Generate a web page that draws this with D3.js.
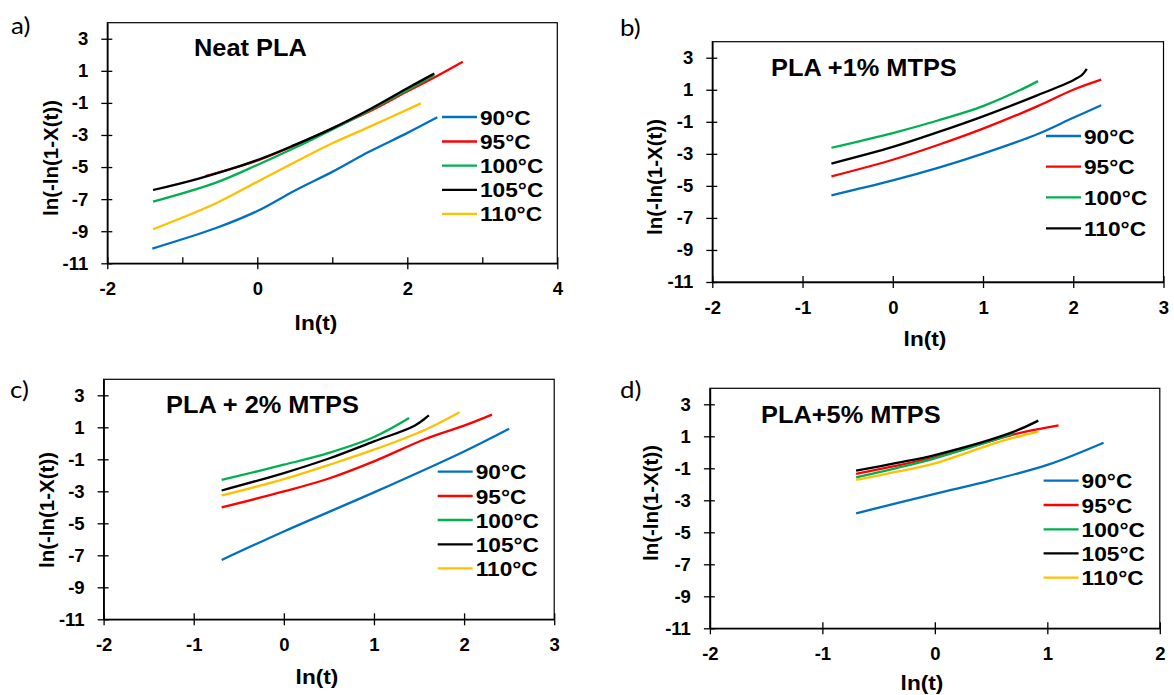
<!DOCTYPE html>
<html>
<head>
<meta charset="utf-8">
<script src="https://cdn.jsdelivr.net/npm/d3@7"></script>
<style>
  body { margin: 0; background: #fff; }
  svg text { font-family: "Liberation Sans", Arial, sans-serif; font-weight: bold; fill: #000; }
  .letter { font-family: Lato, "Open Sans", sans-serif !important; font-weight: normal !important; }
</style>
</head>
<body>
<div id="chart"></div>
<script>
// ---- data: [ln(t), ln(-ln(1-X(t)))] ----
var seriesNames5 = ["90°C", "95°C", "100°C", "105°C", "110°C"];
var seriesNames4 = ["90°C", "95°C", "100°C", "110°C"];
var colors5 = ["#0070C0", "#FF0000", "#00B050", "#000000", "#FFC000"];
var colors4 = ["#0070C0", "#FF0000", "#00B050", "#000000"];
var yTickValues = [-11, -9, -7, -5, -3, -1, 1, 3];

// a) Neat PLA
var a90 = [[-1.40, -10.08], [-0.55, -8.80], [0, -7.74], [0.51, -6.44], [1.0, -5.30], [1.49, -4.05], [1.99, -2.90], [2.40, -1.90]];
var a95 = [[-0.69, -5.56], [0, -4.60], [0.5, -3.65], [1.0, -2.59], [1.5, -1.52], [1.99, -0.30], [2.36, 0.59], [2.74, 1.57]];
var a100 = [[-1.39, -7.16], [-0.55, -5.97], [0, -4.87], [0.5, -3.80], [1.0, -2.65], [1.5, -1.45], [2.0, -0.20], [2.36, 0.74]];
var a105 = [[-1.39, -6.43], [-0.77, -5.70], [0, -4.56], [0.5, -3.62], [1.0, -2.59], [1.5, -1.40], [2.0, -0.09], [2.36, 0.84]];
var a110 = [[-1.39, -8.88], [-0.55, -7.26], [0, -5.91], [0.5, -4.70], [1.0, -3.52], [1.5, -2.48], [2.18, -1.03]];

// b) PLA +1% MTPS
var b90 = [[-0.68, -5.59], [0, -4.66], [0.5, -3.88], [1.0, -2.99], [1.6, -1.78], [2.0, -0.75], [2.31, 0.03]];
var b95 = [[-0.68, -4.41], [0, -3.37], [0.5, -2.45], [1.0, -1.43], [1.6, -0.04], [2.0, 1.00], [2.31, 1.63]];
var b100 = [[-0.68, -2.62], [0, -1.70], [0.5, -0.92], [1.0, -0.02], [1.4, 0.95], [1.61, 1.54]];
var b110 = [[-0.68, -3.61], [0, -2.57], [0.5, -1.65], [1.0, -0.66], [1.6, 0.65], [2.0, 1.60], [2.1, 1.95], [2.15, 2.31]];

// c) PLA + 2% MTPS
var c90 = [[-0.69, -7.29], [0, -5.51], [1.0, -3.07], [2.0, -0.51], [2.5, 0.91]];
var c95 = [[-0.69, -4.01], [0, -3.01], [0.5, -2.20], [1.0, -1.13], [1.57, 0.27], [2.0, 1.10], [2.31, 1.79]];
var c100 = [[-0.69, -2.28], [0, -1.34], [0.5, -0.60], [1.0, 0.39], [1.39, 1.58]];
var c105 = [[-0.69, -2.95], [0, -1.86], [0.5, -0.95], [1.0, 0.12], [1.45, 1.10], [1.61, 1.75]];
var c110 = [[-0.69, -3.26], [0, -2.24], [0.5, -1.35], [1.0, -0.40], [1.57, 0.85], [1.95, 1.94]];

// d) PLA+5% MTPS
var d90 = [[-0.70, -3.81], [0, -2.60], [0.5, -1.75], [1.0, -0.79], [1.5, 0.60]];
var d95 = [[-0.70, -1.35], [-0.35, -0.85], [0, -0.31], [0.68, 1.08], [0.91, 1.44], [1.10, 1.69]];
var d100 = [[-0.70, -1.56], [-0.35, -1.00], [0, -0.375], [0.69, 1.15]];
var d105 = [[-0.70, -1.15], [-0.35, -0.68], [0, -0.17], [0.68, 1.23], [0.92, 1.98]];
var d110 = [[-0.70, -1.73], [-0.35, -1.23], [0, -0.69], [0.58, 0.67], [0.92, 1.29]];

// ---- layout of the four panels ----
var panels = [
  { letter: "a)", letterX: 11, letterY: 34, title: "Neat PLA", titleX: 194, titleY: 56,
    box: [107.3, 22.7, 557.3, 263.3], xDomain: [-2, 4], labelStep: 2,
    yLabelX: 51, yLabelY: 158, xLabelX: 316, xLabelY: 322,
    legX: 442, legRows: [117, 141.5, 165.7, 189.8, 213.8],
    names: seriesNames5, colors: colors5, series: [a90, a95, a100, a105, a110] },
  { letter: "b)", letterX: 620, letterY: 36, title: "PLA +1% MTPS", titleX: 771, titleY: 76,
    box: [712.3, 41.7, 1163.5, 282], xDomain: [-2, 3], labelStep: 1,
    yLabelX: 655, yLabelY: 177, xLabelX: 925, xLabelY: 338,
    legX: 1046, legRows: [136, 166.7, 197.3, 228.3],
    names: seriesNames4, colors: colors4, series: [b90, b95, b100, b110] },
  { letter: "c)", letterX: 10, letterY: 398, title: "PLA + 2% MTPS", titleX: 166, titleY: 413,
    box: [103.6, 379.3, 554.2, 619.3], xDomain: [-2, 3], labelStep: 1,
    yLabelX: 47, yLabelY: 510, xLabelX: 317, xLabelY: 676,
    legX: 437.7, legRows: [471.7, 496, 520, 544.3, 568.3],
    names: seriesNames5, colors: colors5, series: [c90, c95, c100, c105, c110] },
  { letter: "d)", letterX: 620, letterY: 398, title: "PLA+5% MTPS", titleX: 761, titleY: 423,
    box: [709.9, 388.3, 1159.8, 628.3], xDomain: [-2, 2], labelStep: 1,
    yLabelX: 651, yLabelY: 503, xLabelX: 922, xLabelY: 682,
    legX: 1043.6, legRows: [480.7, 505, 529.3, 553.3, 577.7],
    names: seriesNames5, colors: colors5, series: [d90, d95, d100, d105, d110] }
];

// the source figure is slightly stretched sideways, so text is too
var stretch = 1.08;

var svg = d3.select("#chart")
  .append("svg")
  .attr("width", 1174)
  .attr("height", 695);

function addText(tx, ty, str, size, anchor) {
  return svg.append("text")
    .attr("transform", "translate(" + tx + "," + ty + ") scale(" + stretch + ",1)")
    .attr("text-anchor", anchor || "start")
    .style("font-size", size + "px")
    .text(str);
}

panels.forEach(function (p) {
  var left = p.box[0], top = p.box[1], right = p.box[2], bottom = p.box[3];

  var x = d3.scaleLinear().domain(p.xDomain).range([left, right]);
  var y = d3.scaleLinear().domain([-11, 4]).range([bottom, top]);

  // plot area border
  svg.append("rect")
    .attr("x", left).attr("y", top)
    .attr("width", right - left).attr("height", bottom - top)
    .attr("fill", "none").attr("stroke", "#000").attr("stroke-width", 1.2);

  // X axis: ticks every 1, labels every labelStep
  var xTicks = d3.range(p.xDomain[0], p.xDomain[1] + 0.001, 1);
  var isLabeled = function (d) { return (d - p.xDomain[0]) % p.labelStep === 0; };
  var gx = svg.append("g")
    .attr("transform", "translate(0," + bottom + ")")
    .call(d3.axisBottom(x).tickValues(xTicks).tickSize(6).tickSizeOuter(0).tickPadding(13)
      .tickFormat(function (d) { return isLabeled(d) ? String(d) : ""; }));
  gx.select(".domain").attr("stroke-width", 1.6);
  gx.selectAll(".tick line")
    .attr("y1", -6)
    .attr("y2", function (d) { return isLabeled(d) ? 6 : 0; })
    .attr("stroke-width", 1.3);
  gx.selectAll(".tick text").style("font-size", "18.5px");

  // Y axis
  var gy = svg.append("g")
    .attr("transform", "translate(" + left + ",0)")
    .call(d3.axisLeft(y).tickValues(yTickValues).tickSize(6).tickSizeOuter(0).tickPadding(13)
      .tickFormat(function (d) { return String(d); }));
  gy.select(".domain").attr("stroke-width", 1.6);
  gy.selectAll(".tick line").attr("x1", 5).attr("stroke-width", 1.3);
  gy.selectAll(".tick text").style("font-size", "18.5px");

  // series lines
  var line = d3.line()
    .x(function (d) { return x(d[0]); })
    .y(function (d) { return y(d[1]); })
    .curve(d3.curveCatmullRom.alpha(0.5));

  p.series.forEach(function (s, i) {
    svg.append("path")
      .datum(s)
      .attr("fill", "none")
      .attr("stroke", p.colors[i])
      .attr("stroke-width", 2.3)
      .attr("d", line);
  });

  // legend
  p.names.forEach(function (name, i) {
    svg.append("line")
      .attr("x1", p.legX).attr("x2", p.legX + 35)
      .attr("y1", p.legRows[i]).attr("y2", p.legRows[i])
      .attr("stroke", p.colors[i]).attr("stroke-width", 2.3);
    addText(p.legX + 38, p.legRows[i] + 7.5, name, 21);
  });

  // titles and labels
  addText(p.titleX, p.titleY, p.title, 23.5);

  svg.append("text")
    .attr("class", "letter")
    .attr("transform", "translate(" + p.letterX + "," + p.letterY + ") scale(" + stretch + ",1)")
    .style("font-size", "24px")
    .text(p.letter);

  svg.append("text")
    .attr("text-anchor", "middle")
    .attr("transform", "translate(" + p.yLabelX + "," + p.yLabelY + ") rotate(-90)")
    .attr("dy", "0.35em")
    .style("font-size", "20.5px")
    .text("ln(-ln(1-X(t))");

  addText(p.xLabelX, p.xLabelY + 7.5, "ln(t)", 21, "middle");
});
</script>
</body>
</html>
